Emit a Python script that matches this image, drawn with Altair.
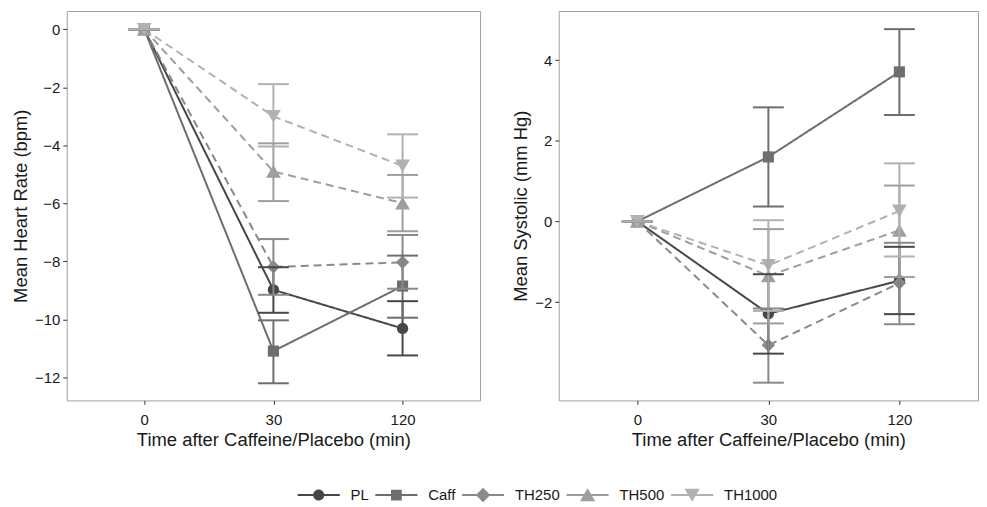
import altair as alt
import pandas as pd

times = ["0", "30", "120"]
series = ["PL", "Caff", "TH250", "TH500", "TH1000"]
colors = ["#474747", "#6e6e6e", "#898989", "#9e9e9e", "#b1b1b1"]

# Heart rate (bpm): mean, upper, lower per series at 0, 30, 120 min
hr_mean = {"PL": [0, -8.98, -10.31], "Caff": [0, -11.09, -8.85], "TH250": [0, -8.19, -8.03],
           "TH500": [0, -4.90, -5.99], "TH1000": [0, -3.00, -4.71]}
hr_hi = {"PL": [0, -8.20, -9.37], "Caff": [0, -10.03, -7.80], "TH250": [0, -7.23, -7.09],
         "TH500": [0, -3.93, -5.02], "TH1000": [0, -1.89, -3.62]}
hr_lo = {"PL": [0, -9.77, -11.24], "Caff": [0, -12.20, -9.94], "TH250": [0, -9.15, -8.94],
         "TH500": [0, -5.92, -6.96], "TH1000": [0, -4.04, -5.80]}

# Systolic (mm Hg)
sy_mean = {"PL": [0, -2.29, -1.47], "Caff": [0, 1.60, 3.71], "TH250": [0, -3.07, -1.53],
           "TH500": [0, -1.35, -0.22], "TH1000": [0, -1.09, 0.26]}
sy_hi = {"PL": [0, -1.31, -0.63], "Caff": [0, 2.83, 4.77], "TH250": [0, -2.16, -0.53],
         "TH500": [0, -0.19, 0.89], "TH1000": [0, 0.03, 1.44]}
sy_lo = {"PL": [0, -3.28, -2.30], "Caff": [0, 0.37, 2.64], "TH250": [0, -4.00, -2.55],
         "TH500": [0, -2.53, -1.38], "TH1000": [0, -2.22, -0.87]}

shapes = {"PL": "circle", "Caff": "square", "TH250": "diamond",
          "TH500": "triangle-up", "TH1000": "triangle-down"}
sizes = {"PL": 130, "Caff": 125, "TH250": 180, "TH500": 220, "TH1000": 220}

# legend symbols: line segment + marker (custom paths, unit box [-1,1])
bar = "M-2.35,-0.11H2.35V0.11H-2.35Z "
legend_paths = [
    bar + "M-0.62,0A0.62,0.62 0 1,1 0.62,0A0.62,0.62 0 1,1 -0.62,0Z",
    bar + "M-0.6,-0.6H0.6V0.6H-0.6Z",
    bar + "M0,-0.8L0.8,0L0,0.8L-0.8,0Z",
    bar + "M0,-0.75L0.85,0.7L-0.85,0.7Z",
    bar + "M0,0.75L-0.85,-0.7L0.85,-0.7Z",
]


def make_df(m, hi, lo):
    rows = []
    for s in series:
        for i, t in enumerate(times):
            rows.append({"series": s, "time": t, "mean": m[s][i], "hi": hi[s][i], "lo": lo[s][i]})
    return pd.DataFrame(rows)


color_scale = alt.Scale(domain=series, range=colors)
dash_scale = alt.Scale(domain=series, range=[[1, 0], [1, 0], [8, 5], [8, 5], [8, 5]])

legend_props = dict(title=None, orient="none", direction="horizontal",
                    legendX=244, legendY=16, symbolSize=324,
                    labelFontSize=15, labelOffset=23,
                    columnPadding=5, labelColor="#1a1a1a",
                    symbolStrokeWidth=0, labelFont="Liberation Sans")


def panel(df, ytitle, ydomain, yvalues, w, yext, ypad):
    base = alt.Chart(df)
    x = alt.X("time:N", sort=times, scale=alt.Scale(type="point", padding=0.6),
              title="Time after Caffeine/Placebo (min)",
              axis=alt.Axis(labelAngle=0, minExtent=26, maxExtent=26, titlePadding=4,
                            labelPadding=8))
    y = alt.Y("mean:Q", scale=alt.Scale(domain=ydomain, nice=False, zero=False),
              title=ytitle, axis=alt.Axis(values=yvalues, minExtent=yext, maxExtent=yext,
                                          titlePadding=ypad))
    nocol = alt.Color("series:N", scale=color_scale, legend=None)
    lines = base.mark_line(strokeWidth=2).encode(
        x=x, y=y, color=nocol,
        strokeDash=alt.StrokeDash("series:N", scale=dash_scale, legend=None),
        detail="series:N",
    )
    layers = [lines]
    for s in series:
        layers.append(
            base.transform_filter(alt.datum.series == s).mark_point(
                filled=True, opacity=1, shape=shapes[s], size=sizes[s]
            ).encode(x=x, y=y, color=nocol)
        )
    rules = base.mark_rule(strokeWidth=2).encode(x=x, y=alt.Y("hi:Q"), y2="lo:Q", color=nocol)
    caps_hi = base.mark_tick(orient="horizontal", size=31, thickness=2, opacity=1).encode(
        x=x, y=alt.Y("hi:Q"), color=nocol)
    caps_lo = base.mark_tick(orient="horizontal", size=31, thickness=2, opacity=1).encode(
        x=x, y=alt.Y("lo:Q"), color=nocol)
    layers += [rules, caps_hi, caps_lo]
    return alt.layer(*layers).properties(width=w, height=391)


hr_df = make_df(hr_mean, hr_hi, hr_lo)
sy_df = make_df(sy_mean, sy_hi, sy_lo)

left = panel(hr_df, "Mean Heart Rate (bpm)", [-12.79, 0.63], [0, -2, -4, -6, -8, -10, -12], 415, 34, 2)
right = panel(sy_df, "Mean Systolic (mm Hg)", [-4.44, 5.22], [4, 2, 0, -2], 421, 27, 1)

legend_chart = alt.Chart(pd.DataFrame({"series": series})).transform_filter(
    "datum.series == 'none'"
).mark_point(filled=True, opacity=1, size=324).encode(
    color=alt.Color("series:N", scale=color_scale, legend=alt.Legend(**legend_props)),
    shape=alt.Shape("series:N", scale=alt.Scale(domain=series, range=legend_paths),
                    legend=alt.Legend(**legend_props)),
).properties(width=900, height=20, view=alt.ViewBackground(stroke="transparent"))

top = alt.hconcat(left, right, spacing=30).resolve_scale(
    color="independent", shape="independent", strokeDash="independent"
)

chart = alt.vconcat(top, legend_chart, spacing=20).resolve_scale(
    color="independent", shape="independent", strokeDash="independent"
).properties(
    padding={"left": 3, "top": 1, "right": 0, "bottom": 0}
).configure(
    font="Liberation Sans", background="white"
).configure_view(
    stroke="#a0a0a0", strokeWidth=1
).configure_axis(
    domain=False, grid=False, tickColor="#333333", tickSize=4, tickWidth=1,
    labelColor="#1a1a1a", labelFontSize=15, labelFont="Liberation Sans",
    titleFont="Liberation Sans", titleFontSize=18.5, titleFontWeight="normal",
    titleColor="#1a1a1a", labelPadding=3,
)

chart.save("out.html", embed_options={"renderer": "svg", "actions": False})
